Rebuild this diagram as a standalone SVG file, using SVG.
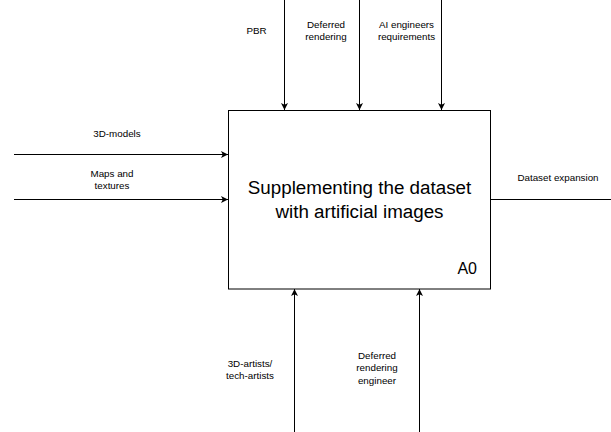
<svg xmlns="http://www.w3.org/2000/svg" width="611" height="432" viewBox="0 0 611 432">
<style>
.ln{stroke:#000;stroke-width:1;fill:none}
.lbl{font-family:"Liberation Sans",Arial,sans-serif;font-size:9.8px;fill:#000;text-anchor:middle}
.big{font-family:"Liberation Sans",Arial,sans-serif;font-size:18.8px;fill:#000;text-anchor:middle}
</style>
<defs>
<marker id="ar" viewBox="0 0 10 10" refX="10" refY="5" markerWidth="7" markerHeight="7" orient="auto" markerUnits="userSpaceOnUse">
<path d="M0,0 L10,5 L0,10 L2.5,5 Z" fill="#000"/>
</marker>
</defs>
<rect width="611" height="432" fill="#fff"/>
<g id="connectors">
<line class="ln" x1="284.5" y1="0" x2="284.5" y2="110" marker-end="url(#ar)"/>
<line class="ln" x1="359.5" y1="0" x2="359.5" y2="110" marker-end="url(#ar)"/>
<line class="ln" x1="441.5" y1="0" x2="441.5" y2="110" marker-end="url(#ar)"/>
<line class="ln" x1="14" y1="154.5" x2="228" y2="154.5" marker-end="url(#ar)"/>
<line class="ln" x1="14" y1="199.5" x2="228" y2="199.5" marker-end="url(#ar)"/>
<line class="ln" x1="490" y1="199.5" x2="611" y2="199.5"/>
<line class="ln" x1="294.5" y1="432" x2="294.5" y2="289" marker-end="url(#ar)"/>
<line class="ln" x1="419.5" y1="432" x2="419.5" y2="289" marker-end="url(#ar)"/>
<text class="lbl" x="256.5" y="33.5">PBR</text>
<text class="lbl" x="326" y="27.5">Deferred<tspan x="326" dy="12.5">rendering</tspan></text>
<text class="lbl" x="406.5" y="27.5">AI engineers<tspan x="406.5" dy="12.5">requirements</tspan></text>
<text class="lbl" x="117" y="136.5">3D-models</text>
<text class="lbl" x="112" y="176.5">Maps and<tspan x="112" dy="12.5">textures</tspan></text>
<text class="lbl" x="558" y="180.5">Dataset expansion</text>
<text class="lbl" x="250" y="366.5">3D-artists/<tspan x="250" dy="12.5">tech-artists</tspan></text>
<text class="lbl" x="377" y="358.5">Deferred<tspan x="377" dy="12.5">rendering</tspan><tspan x="377" dy="12.5">engineer</tspan></text>
</g>
<g id="A0">
<rect x="228.5" y="110.5" width="262" height="178.5" fill="#fff" stroke="#000" stroke-width="1"/>
<text class="big" x="359.5" y="194">Supplementing the dataset</text>
<text class="big" x="359.5" y="218">with artificial images</text>
<text x="477" y="274" font-family="Liberation Sans, Arial, sans-serif" font-size="16" text-anchor="end">A0</text>
</g>
</svg>
